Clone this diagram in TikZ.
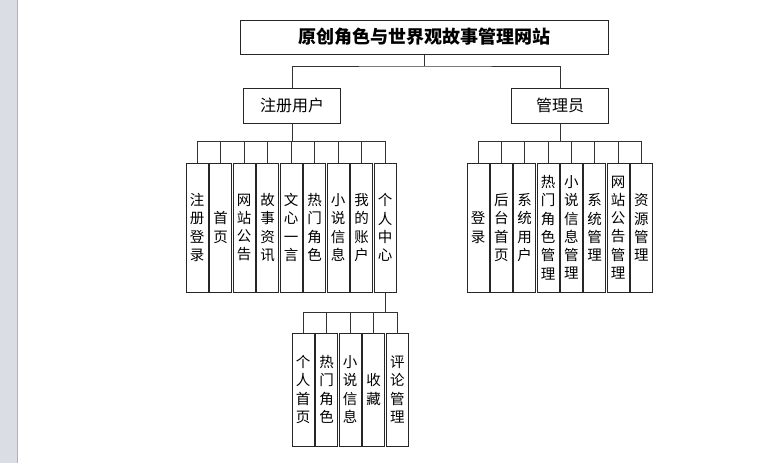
\documentclass[tikz,border=0pt]{standalone}
\usepackage{fontspec}
\setmainfont{Noto Sans CJK SC}
\usepackage{tikz}
\usetikzlibrary{positioning, calc}
\definecolor{sidebar}{RGB}{218,222,228}

\begin{document}
\begin{tikzpicture}[
  x=1pt, y=-1pt,
  %%── Styles ───────────────────────────────────────────────────────────────
  root/.style={
    draw=black!85, line width=1pt,
    minimum width=368pt, minimum height=34pt, inner sep=0pt,
    font=\fontsize{18pt}{20pt}\selectfont\bfseries
  },
  role/.style={
    draw=black!85, line width=1pt,
    minimum width=97pt, minimum height=35pt, inner sep=0pt,
    font=\fontsize{16pt}{18pt}\selectfont
  },
  leaf/.style={
    draw=black!85, line width=1pt,
    minimum width=22pt, minimum height=129pt, inner sep=0pt,
    align=center, font=\fontsize{14.5pt}{18.3pt}\selectfont
  },
  subleaf/.style={leaf, minimum height=113pt},
  link/.style={draw=black!80, line width=0.8pt},
]

%%── Page frame (775 x 463, y runs downward) ─────────────────────────────
\useasboundingbox (0,0) rectangle (775,463);
\fill[sidebar] (0,0) rectangle (17,463);
\draw[sidebar!80!black, line width=0.6pt] (17,0) -- (17,463);

%%── Root and roles ──────────────────────────────────────────────────────
\node[root] (title) at (424, 37)    {原创角色与世界观故事管理网站};
\node[role] (user)  at (292, 105.5) {注册用户};
\node[role] (admin) at (560, 105.5) {管理员};

%%════════════════════════════════════════════════════════════════
%% Registered user — row y=163..292, pitch 23.5
%%════════════════════════════════════════════════════════════════
\node[leaf] (ulogin)   at (197.0, 227.5) {注\\册\\登\\录};
\node[leaf] (uhome)    at (220.5, 227.5) {首\\页};
\node[leaf] (unotice)  at (244.0, 227.5) {网\\站\\公\\告};
\node[leaf] (ustory)   at (267.5, 227.5) {故\\事\\资\\讯};
\node[leaf] (uquote)   at (291.0, 227.5) {文\\心\\一\\言};
\node[leaf] (uhotrole) at (314.5, 227.5) {热\\门\\角\\色};
\node[leaf] (unovel)   at (338.0, 227.5) {小\\说\\信\\息};
\node[leaf] (uaccount) at (361.5, 227.5) {我\\的\\账\\户};
\node[leaf] (ucenter)  at (385.0, 227.5) {个\\人\\中\\心};

%%════════════════════════════════════════════════════════════════
%% Administrator — row y=163..292, pitch 23.35
%%════════════════════════════════════════════════════════════════
\node[leaf] (alogin)    at (478.0, 227.5) {登\\录};
\node[leaf] (ahome)     at (501.3, 227.5) {后\\台\\首\\页};
\node[leaf] (ausers)    at (524.7, 227.5) {系\\统\\用\\户};
\node[leaf] (ahotrole)  at (548.0, 227.5) {热\\门\\角\\色\\管\\理};
\node[leaf] (anovel)    at (571.4, 227.5) {小\\说\\信\\息\\管\\理};
\node[leaf] (asystem)   at (594.7, 227.5) {系\\统\\管\\理};
\node[leaf] (anotice)   at (618.0, 227.5) {网\\站\\公\\告\\管\\理};
\node[leaf] (aresource) at (641.4, 227.5) {资\\源\\管\\理};

%%════════════════════════════════════════════════════════════════
%% Personal centre — row y=333..446
%%════════════════════════════════════════════════════════════════
\node[subleaf] (cprofile) at (303.0, 389.5) {个\\人\\首\\页};
\node[subleaf] (chotrole) at (326.5, 389.5) {热\\门\\角\\色};
\node[subleaf] (cnovel)   at (350.0, 389.5) {小\\说\\信\\息};
\node[subleaf] (cfavor)   at (373.6, 389.5) {收\\藏};
\node[subleaf] (ccomment) at (397.3, 389.5) {评\\论\\管\\理};

%%── Connectors ──────────────────────────────────────────────────────────
\coordinate (topbus)    at (title.south |- 0,66);
\coordinate (userbus)   at (user.south |- 0,141.5);
\coordinate (adminbus)  at (admin.south |- 0,141.5);
\coordinate (centerbus) at (ucenter.south |- 0,312.5);

\draw[link] (title.south) -- (topbus);
\draw[link] (user.north) |- (topbus) -| (admin.north);

\draw[link] (user.south) -- (userbus);
\foreach \leaf in {ulogin, uhome, unotice, ustory, uquote,
                   uhotrole, unovel, uaccount, ucenter} {
  \draw[link] (userbus) -| (\leaf.north);
}

\draw[link] (admin.south) -- (adminbus);
\foreach \leaf in {alogin, ahome, ausers, ahotrole,
                   anovel, asystem, anotice, aresource} {
  \draw[link] (adminbus) -| (\leaf.north);
}

\draw[link] (ucenter.south) -- (centerbus);
\foreach \leaf in {cprofile, chotrole, cnovel, cfavor, ccomment} {
  \draw[link] (centerbus) -| (\leaf.north);
}

\end{tikzpicture}
\end{document}
